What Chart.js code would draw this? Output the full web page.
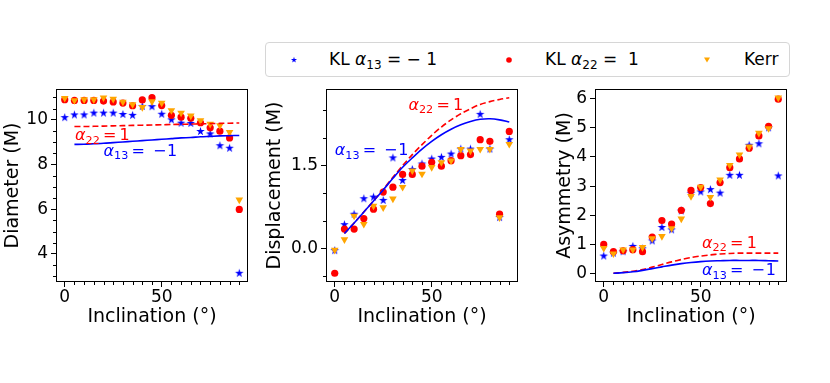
<!DOCTYPE html>
<html>
<head>
<meta charset="utf-8">
<script src="https://cdn.jsdelivr.net/npm/chart.js@4.4.1/dist/chart.umd.min.js"></script>
<style>
  html, body { margin: 0; padding: 0; background: #fff; }
  body { width: 830px; height: 383px; position: relative; overflow: hidden; font-family: "DejaVu Sans", sans-serif; }
  .panel { position: absolute; top: 0; }
  #legend { position: absolute; left: 265px; top: 42px; width: 523px; height: 33px;
            border: 1px solid #d6d6d6; border-radius: 4px; background: #fff; font-size: 17px; color: #000; }
  #legend .mk { position: absolute; top: 12px; }
  #legend .txt { position: absolute; top: 5px; white-space: nowrap; line-height: 22px; }
  #legend sub { font-size: 12px; vertical-align: -4px; line-height: 0; }
</style>
</head>
<body>
<div id="legend">
  <canvas class="mk" id="mk-star" width="10" height="10" style="left:23px"></canvas>
  <span class="txt" style="left:63px">KL <i>α</i><sub>13</sub> = − 1</span>
  <canvas class="mk" id="mk-dot" width="10" height="10" style="left:238px"></canvas>
  <span class="txt" style="left:279px">KL <i>α</i><sub>22</sub> =&nbsp; 1</span>
  <canvas class="mk" id="mk-tri" width="10" height="10" style="left:436px"></canvas>
  <span class="txt" style="left:478px">Kerr</span>
</div>
<canvas class="panel" id="diameter-chart" width="265" height="383" style="left:0px"></canvas>
<canvas class="panel" id="displacement-chart" width="270" height="383" style="left:262px"></canvas>
<canvas class="panel" id="asymmetry-chart" width="260" height="383" style="left:550px"></canvas>
<script>
// Inclination grid of the simulated images
const inclination = [0, 5, 10, 15, 20, 25, 30, 35, 40, 45, 50, 55, 60, 65, 70, 75, 80, 85, 90];
// Inclination grid of the analytic curves
const curveInclination = [5, 10, 15, 20, 25, 30, 35, 40, 45, 50, 55, 60, 65, 70, 75, 80, 85, 90];

// Diameter (M)
const diameterKL13 = [10.10, 10.22, 10.22, 10.30, 10.30, 10.30, 10.24, 10.20, 10.60, 10.59, 10.25, 10.00, 9.85, 9.84, 9.48, 9.37, 8.84, 8.73, 3.13];
const diameterKL22 = [10.90, 10.87, 10.87, 10.87, 10.84, 10.80, 10.75, 10.63, 10.89, 10.99, 10.64, 10.20, 10.12, 10.07, 9.87, 9.64, 9.49, 9.19, 5.99];
const diameterKerr = [10.97, 10.87, 10.91, 10.91, 10.99, 10.93, 10.80, 10.69, 10.56, 10.82, 10.76, 10.42, 10.31, 10.18, 9.97, 9.81, 9.75, 9.45, 6.42];
const diameterCurve13 = [8.90, 8.91, 8.93, 8.95, 8.98, 9.01, 9.04, 9.07, 9.10, 9.13, 9.16, 9.19, 9.21, 9.24, 9.26, 9.28, 9.29, 9.30];
const diameterCurve22 = [9.70, 9.70, 9.71, 9.72, 9.73, 9.74, 9.75, 9.76, 9.77, 9.78, 9.79, 9.80, 9.81, 9.82, 9.83, 9.84, 9.85, 9.86];

// Displacement (M)
const displacementKL13 = [-0.04, 0.43, 0.62, 0.90, 0.93, 0.87, 1.64, 1.23, 1.43, 1.53, 1.62, 1.65, 1.71, 1.80, 1.80, 2.43, 1.80, 0.56, 1.97];
const displacementKL22 = [-0.45, 0.35, 0.35, 0.54, 0.71, 1.02, 1.11, 1.34, 1.34, 1.49, 1.56, 1.49, 1.59, 1.68, 1.70, 1.97, 1.94, 0.62, 2.12];
const displacementKerr = [-0.03, 0.16, 0.59, 0.44, 0.77, 0.74, 0.90, 1.11, 1.41, 1.35, 1.47, 1.56, 1.59, 1.80, 1.77, 1.80, 1.80, 0.56, 1.89];
const displacementCurve13 = [0.27, 0.46, 0.66, 0.86, 1.06, 1.27, 1.47, 1.64, 1.80, 1.94, 2.06, 2.16, 2.24, 2.30, 2.34, 2.35, 2.33, 2.29];
const displacementCurve22 = [0.27, 0.46, 0.66, 0.86, 1.07, 1.29, 1.50, 1.70, 1.88, 2.05, 2.20, 2.33, 2.44, 2.53, 2.61, 2.66, 2.70, 2.73];

// Asymmetry (M)
const asymmetryKL13 = [0.60, 0.70, 0.75, 0.93, 0.85, 1.12, 1.58, 1.50, 2.15, 2.75, 2.80, 2.88, 2.76, 3.37, 3.37, 4.40, 4.45, 5.00, 3.35];
const asymmetryKL22 = [1.00, 0.75, 0.78, 0.82, 0.75, 1.25, 1.82, 1.70, 2.17, 2.85, 2.95, 2.40, 3.12, 3.63, 3.93, 4.30, 4.72, 5.05, 5.98];
const asymmetryKerr = [0.87, 0.68, 0.82, 0.82, 0.90, 1.20, 1.28, 1.55, 1.88, 2.65, 2.97, 2.62, 3.22, 3.72, 4.08, 4.35, 4.82, 4.98, 6.03];
const asymmetryCurve13 = [0.01, 0.03, 0.06, 0.11, 0.17, 0.23, 0.29, 0.34, 0.38, 0.41, 0.43, 0.44, 0.45, 0.45, 0.45, 0.45, 0.44, 0.43];
const asymmetryCurve22 = [0.01, 0.04, 0.08, 0.14, 0.22, 0.31, 0.40, 0.48, 0.55, 0.60, 0.64, 0.67, 0.69, 0.70, 0.70, 0.70, 0.70, 0.70];

const FONT = '"DejaVu Sans", sans-serif';
const BLUE = '#0000ff';
const RED = '#ff0000';
const ORANGE = '#ffa500';

// Filled five-point star, like matplotlib's '*' marker
function drawStar(canvas, outer) {
  const ctx = canvas.getContext('2d');
  const cx = canvas.width / 2, cy = canvas.height / 2;
  const inner = outer * 0.382;
  ctx.fillStyle = BLUE;
  ctx.beginPath();
  for (let i = 0; i < 10; i++) {
    const r = i % 2 ? inner : outer;
    const a = -Math.PI / 2 + i * Math.PI / 5;
    ctx.lineTo(cx + r * Math.cos(a), cy + r * Math.sin(a));
  }
  ctx.closePath();
  ctx.fill();
  return canvas;
}

const starImage = document.createElement('canvas');
starImage.width = 11;
starImage.height = 11;
drawStar(starImage, 4.5);

// Legend markers
drawStar(document.getElementById('mk-star'), 3.2);
(function () {
  const dot = document.getElementById('mk-dot').getContext('2d');
  dot.fillStyle = RED;
  dot.beginPath();
  dot.arc(5, 5, 2.8, 0, Math.PI * 2);
  dot.fill();
  const tri = document.getElementById('mk-tri').getContext('2d');
  tri.fillStyle = ORANGE;
  tri.beginPath();
  tri.moveTo(2, 2.5);
  tri.lineTo(8, 2.5);
  tri.lineTo(5, 7.5);
  tri.closePath();
  tri.fill();
})();

// alpha_ij = value label in mathtext style
function drawMath(ctx, x, y, sub, rhs, color) {
  const size = 16;
  ctx.fillStyle = color;
  ctx.textAlign = 'left';
  ctx.textBaseline = 'alphabetic';
  ctx.font = `italic ${size}px ${FONT}`;
  ctx.fillText('α', x, y);
  x += ctx.measureText('α').width;
  ctx.font = `${size * 0.7}px ${FONT}`;
  ctx.fillText(sub, x, y + size * 0.22);
  x += ctx.measureText(sub).width + size * 0.2;
  ctx.font = `${size}px ${FONT}`;
  ctx.fillText('=', x, y);
  x += ctx.measureText('=').width + size * 0.2;
  if (rhs < 0) {
    x += size * 0.3;
    ctx.fillText('−', x, y);
    x += ctx.measureText('−').width + size * 0.05;
  }
  ctx.fillText(String(Math.abs(rhs)), x, y);
}

// Box frame, minor ticks and curve labels
const framePlugin = {
  id: 'frame',
  afterDraw(chart, args, opts) {
    const { ctx, chartArea: a, scales: { x, y } } = chart;
    ctx.save();
    ctx.strokeStyle = '#000';
    ctx.lineWidth = 1;
    ctx.strokeRect(Math.round(a.left) + 0.5, Math.round(a.top) + 0.5,
                   Math.round(a.right - a.left) - 1, Math.round(a.bottom - a.top) - 1);
    ctx.beginPath();
    for (let v = 5; v <= 90; v += 5) {
      if (v === 50) continue;
      const px = Math.round(x.getPixelForValue(v)) + 0.5;
      ctx.moveTo(px, Math.round(a.bottom));
      ctx.lineTo(px, Math.round(a.bottom) + 3);
    }
    (opts.yMinor || []).forEach(v => {
      const py = Math.round(y.getPixelForValue(v)) + 0.5;
      ctx.moveTo(Math.round(a.left), py);
      ctx.lineTo(Math.round(a.left) - 3, py);
    });
    ctx.stroke();
    (opts.notes || []).forEach(n => {
      drawMath(ctx, x.getPixelForValue(n.x), y.getPixelForValue(n.y), n.sub, n.rhs, n.color);
    });
    ctx.restore();
  }
};

function points(xs, ys) {
  return xs.map((v, i) => ({ x: v, y: ys[i] }));
}

function makePanel(id, p) {
  const ctx = document.getElementById(id).getContext('2d');
  return new Chart(ctx, {
    type: 'scatter',
    data: {
      datasets: [
        { label: 'KL a13 = -1', data: points(inclination, p.kl13), pointStyle: starImage, order: 5 },
        { label: 'KL a22 = 1', data: points(inclination, p.kl22), pointStyle: 'circle', pointRadius: 3.6,
          backgroundColor: RED, borderWidth: 0, order: 4 },
        { label: 'Kerr', data: points(inclination, p.kerr), pointStyle: 'triangle', pointRotation: 180,
          pointRadius: 4.4, backgroundColor: ORANGE, borderWidth: 0, order: 3 },
        { label: 'curve a22', data: points(curveInclination, p.curve22), showLine: true, pointRadius: 0,
          borderColor: RED, borderWidth: 1.6, borderDash: [6, 3], tension: 0.3, order: 2 },
        { label: 'curve a13', data: points(curveInclination, p.curve13), showLine: true, pointRadius: 0,
          borderColor: BLUE, borderWidth: 1.6, tension: 0.3, order: 1 }
      ]
    },
    options: {
      responsive: false,
      animation: false,
      events: [],
      layout: { padding: { left: p.padLeft, right: p.padRight, top: 89, bottom: 55 } },
      plugins: {
        legend: { display: false },
        tooltip: { enabled: false },
        frame: { yMinor: p.yMinor, notes: p.notes }
      },
      scales: {
        x: {
          type: 'linear',
          min: -4.5,
          max: 94.5,
          afterBuildTicks: s => { s.ticks = [0, 50].map(v => ({ value: v })); },
          afterFit: s => { s.height = 46; },
          grid: { drawOnChartArea: false, tickLength: 5, tickColor: '#000', tickWidth: 1 },
          border: { display: false },
          ticks: { color: '#000', padding: 0, maxRotation: 0, font: { family: FONT, size: 17 } },
          title: { display: true, text: 'Inclination (°)', color: '#000', padding: 0,
                   font: { family: FONT, size: 19 } }
        },
        y: {
          type: 'linear',
          min: p.yMin,
          max: p.yMax,
          afterBuildTicks: s => { s.ticks = p.yTicks.map(v => ({ value: v })); },
          afterFit: s => { s.width = p.yWidth; },
          grid: { drawOnChartArea: false, tickLength: 5, tickColor: '#000', tickWidth: 1 },
          border: { display: false },
          ticks: { color: '#000', padding: 3, font: { family: FONT, size: 17 },
                   callback: v => (p.decimals ? v.toFixed(p.decimals) : String(v)) },
          title: { display: true, text: p.title, color: '#000', padding: 0,
                   font: { family: FONT, size: 19 } }
        }
      }
    },
    plugins: [framePlugin]
  });
}

makePanel('diameter-chart', {
  kl13: diameterKL13, kl22: diameterKL22, kerr: diameterKerr,
  curve13: diameterCurve13, curve22: diameterCurve22,
  yMin: 2.74, yMax: 11.38, yTicks: [4, 6, 8, 10], decimals: 0,
  yMinor: [3, 3.5, 4.5, 5, 5.5, 6.5, 7, 7.5, 8.5, 9, 9.5, 10.5, 11],
  title: 'Diameter (M)', padLeft: 2, yWidth: 54, padRight: 17,
  notes: [
    { x: 5.3, y: 9.08, sub: '22', rhs: 1, color: RED },
    { x: 20, y: 8.40, sub: '13', rhs: -1, color: BLUE }
  ]
});

makePanel('displacement-chart', {
  kl13: displacementKL13, kl22: displacementKL22, kerr: displacementKerr,
  curve13: displacementCurve13, curve22: displacementCurve22,
  yMin: -0.609, yMax: 2.889, yTicks: [0, 1.5], decimals: 1,
  yMinor: [-0.5, 0.5, 1.0, 2.0, 2.5],
  title: 'Displacement (M)', padLeft: 2, yWidth: 62, padRight: 14,
  notes: [
    { x: 38, y: 2.51, sub: '22', rhs: 1, color: RED },
    { x: 0, y: 1.69, sub: '13', rhs: -1, color: BLUE }
  ]
});

makePanel('asymmetry-chart', {
  kl13: asymmetryKL13, kl22: asymmetryKL22, kerr: asymmetryKerr,
  curve13: asymmetryCurve13, curve22: asymmetryCurve22,
  yMin: -0.29, yMax: 6.33, yTicks: [0, 1, 2, 3, 4, 5, 6], decimals: 0,
  yMinor: [],
  title: 'Asymmetry (M)', padLeft: 4, yWidth: 41, padRight: 23,
  notes: [
    { x: 50.7, y: 0.886, sub: '22', rhs: 1, color: RED },
    { x: 50.7, y: -0.05, sub: '13', rhs: -1, color: BLUE }
  ]
});
</script>
</body>
</html>
